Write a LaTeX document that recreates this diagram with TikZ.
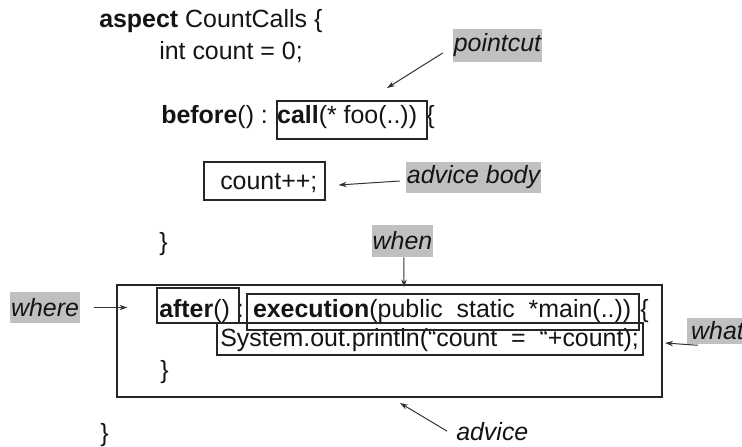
\documentclass[tikz,border=0pt]{standalone}
\usepackage{fontspec}
\setmainfont{Liberation Sans}
\usetikzlibrary{arrows.meta,fit}
\definecolor{labelgray}{RGB}{192,192,192}
\begin{document}
\begin{tikzpicture}[x=0.75pt,y=-0.75pt,
  code/.style={anchor=base west, inner sep=0pt, text=black!92, font=\fontsize{18.7}{22}\selectfont},
  frame/.style={draw=black!85, line width=0.8pt, inner sep=0pt},
  tag/.style 2 args={fill=labelgray, inner sep=0pt, text=black!92,
    minimum width=#1*0.75pt, minimum height=#2*0.75pt,
    font=\fontsize{18.7}{22}\selectfont\itshape},
  arr/.style={draw=black!80, line width=0.75pt, -{Stealth[length=6pt,width=4pt]}}]
\useasboundingbox (0,0) rectangle (742,446);

% program text
\node[code] (l1) at (99,27)  {\textbf{aspect} CountCalls \{};
\node[code] (l2) at (159,59) {int count = 0;};
\node[code] (l3) at (161,123) {\textbf{before}() : \textbf{call}(* foo(..)) \{};
\node[code] (l4) at (220,189) {count++;};
\node[code] (l5) at (159,250) {\}};
\node[code] (l6) at (159,317) {\textbf{after}() : \textbf{execution}(public~ static~ *main(..)) \{};
\node[code] (l7) at (220,346) {System.out.println(“count~ =~ “+count);};
\node[code] (l8) at (160,378) {\}};
\node[code] (l9) at (100,441) {\}};

% frames around the parts of the aspect
\node[frame, fit={(277,101) (427,139)}] (callbox) {};
\node[frame, fit={(204,162) (325,200)}] (countbox) {};
\node[frame, fit={(117,285) (662,397)}] (advbox) {};
\node[frame, fit={(157,288) (239,323)}] (afterbox) {};
\node[frame, fit={(247,294) (639,330)}] (execbox) {};
\node[frame, fit={(217,323) (643,355)}] (sysbox) {};

% annotations (sizes in pixels)
\node[tag={89}{33}] (pointcut) at (497.5,45.5) {pointcut};
\node[tag={135}{31}] (body) at (473.5,177.5) {advice body};
\node[tag={61}{32}] (when) at (402.5,241) {when};
\node[tag={70}{31}] (where) at (45,307.5) {where};
\node[tag={61}{26}] (what) at (717.5,331) {what};
\node[code] (advice) at (456,440) {\itshape advice};

\coordinate (pcTip) at (387,88);
\coordinate (whatTip) at (665,343);
\coordinate (advTip) at (400,403);

\draw[arr] ([shift={(-10,7.5)}]pointcut.west) -- (pcTip);
\draw[arr] ([shift={(-6,3.5)}]body.west) -- ([shift={(13,4)}]countbox.east);
\draw[arr] ([xshift=1.1pt]when.south) -- ([shift={(1.5,3)}]when.south |- advbox.north);
\draw[arr] ([xshift=10.5pt]where.east) -- ([xshift=8.25pt]where.east -| advbox.west);
\draw[arr] ([shift={(11,1)}]what.south west) -- (whatTip);
\draw[arr] ([xshift=-6.75pt]advice.west) -- (advTip);
\end{tikzpicture}
\end{document}
